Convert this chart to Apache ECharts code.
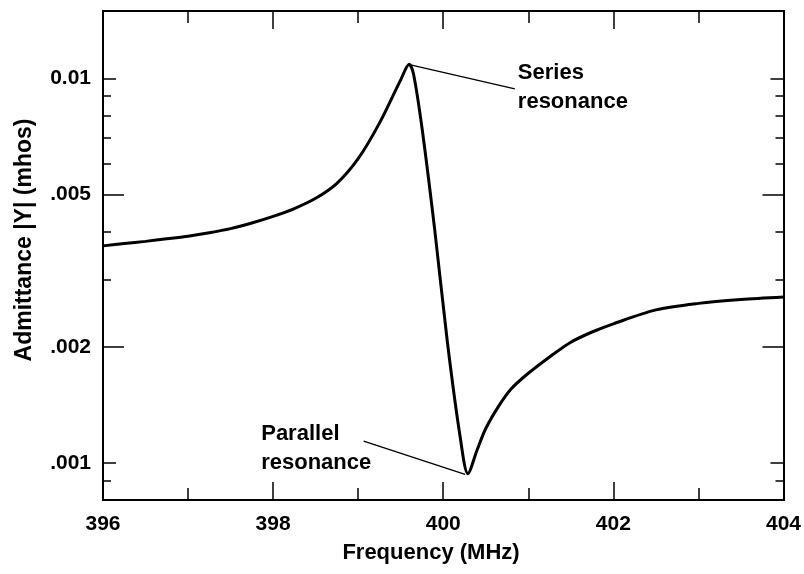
<!DOCTYPE html>
<html>
<head>
<meta charset="utf-8">
<script src="https://cdn.jsdelivr.net/npm/echarts@6/dist/echarts.min.js"></script>
<style>
html,body{margin:0;padding:0;background:#fff;}
#chart{width:804px;height:574px;}
</style>
</head>
<body>
<div id="chart"></div>
<script>
// Frequency (MHz)
var freq = [396.0, 396.25, 396.5, 396.75, 397.0, 397.25, 397.5, 397.75, 398.0, 398.25, 398.5, 398.75, 399.0, 399.25, 399.5, 399.6,
            399.65, 399.75, 399.90, 400.05, 400.20, 400.29,
            400.4, 400.5, 400.65, 400.8, 401.0, 401.25, 401.5, 401.75, 402.0, 402.5, 403.0, 403.5, 404.0];
// Admittance |Y| (mhos)
var admittance = [0.00367, 0.00372, 0.00377, 0.00383, 0.00389, 0.00397, 0.00407, 0.00421, 0.00438, 0.00459, 0.00488, 0.00534, 0.00619, 0.00766, 0.00993, 0.0109,
                  0.0103, 0.00745, 0.00404, 0.00205, 0.001163, 0.000937,
                  0.001083, 0.001228, 0.001402, 0.001558, 0.00171, 0.001886, 0.00206, 0.00219, 0.00230, 0.00250, 0.00260, 0.00266, 0.00270];

var xTicks = [396, 398, 400, 402, 404];
var yLabelValues = [0.01, 0.005, 0.002, 0.001];
var yLabelTexts = ['0.01', '.005', '.002', '.001'];
var yMajorLong = [0.005, 0.002];
var yMajorShort = [0.01, 0.001];
var yMinor = [0.0009, 0.003, 0.004, 0.006, 0.007, 0.008, 0.009];

// annotations: leader start (on curve), leader end, text anchor
var annoTexts = ['Series\nresonance', 'Parallel\nresonance'];
var annoLeaderFrom = [[399.59, 0.01089], [400.257, 0.000933]];
var annoLeaderTo = [[400.842, 0.0094], [399.064, 0.001139]];
var annoTextAt = [[400.877, 0.00946], [397.86, 0.001088]];

var FONT = '"Liberation Sans", Arial, Helvetica, sans-serif';
var YMIN = 0.0008, YMAX = 0.015;

function xAxisDef(pos, showLabel) {
  return {
    type: 'value', position: pos, min: 396, max: 404, interval: 2,
    axisLine: {show: true, onZero: false, lineStyle: {color: '#000', width: 2}},
    axisTick: {show: true, inside: true, length: 18, lineStyle: {color: '#000', width: 1.5}},
    minorTick: {show: true, splitNumber: 2, length: 12, lineStyle: {color: '#000', width: 1.5}},
    splitLine: {show: false}, minorSplitLine: {show: false},
    axisLabel: {show: showLabel, margin: 14, color: '#000', fontSize: 21, fontWeight: 'bold', fontFamily: FONT,
      customValues: xTicks,
      formatter: function (v) { return String(Math.round(v)); }}
  };
}
function yAxisDef(pos, ticks, len, showLabel) {
  return {
    type: 'log', logBase: 10, position: pos, min: YMIN, max: YMAX,
    axisLine: {show: true, onZero: false, lineStyle: {color: '#000', width: 2}},
    axisTick: {show: true, inside: true, length: len, customValues: ticks, lineStyle: {color: '#000', width: 1.5}},
    minorTick: {show: false},
    splitLine: {show: false}, minorSplitLine: {show: false},
    axisLabel: {show: showLabel, margin: 12, color: '#000', fontSize: 21, fontWeight: 'bold', fontFamily: FONT,
      customValues: yLabelValues,
      formatter: function (v) {
        for (var i = 0; i < yLabelValues.length; i++) {
          if (Math.abs(v - yLabelValues[i]) / yLabelValues[i] < 1e-6) return yLabelTexts[i];
        }
        return '';
      }}
  };
}

var chart = echarts.init(document.getElementById('chart'));
var option = {
  animation: false,
  backgroundColor: '#fff',
  grid: {left: 103, right: 16, top: 11, bottom: 74},
  xAxis: [xAxisDef('bottom', true), xAxisDef('top', false)],
  yAxis: [
    yAxisDef('left', yMajorLong, 21, true),
    yAxisDef('left', yMajorShort, 13, false),
    yAxisDef('left', yMinor, 8, false),
    yAxisDef('right', yMajorLong, 21, false),
    yAxisDef('right', yMajorShort, 13, false),
    yAxisDef('right', yMinor, 8, false)
  ],
  graphic: [
    {type: 'text', x: 431, y: 553, style: {text: 'Frequency (MHz)', fill: '#000',
      font: 'bold 22px ' + FONT, textAlign: 'center', textVerticalAlign: 'middle'}},
    {type: 'text', x: 25, y: 240, rotation: Math.PI / 2, style: {text: 'Admittance |Y| (mhos)', fill: '#000',
      font: 'bold 23px ' + FONT, textAlign: 'center', textVerticalAlign: 'middle'}}
  ],
  series: [
    {
      name: 'Admittance', type: 'line', xAxisIndex: 0, yAxisIndex: 0,
      data: freq.map(function (f, i) { return [f, admittance[i]]; }),
      showSymbol: false, symbol: 'none', smooth: 0.3,
      lineStyle: {color: '#000', width: 3},
      markLine: {
        silent: true, symbol: ['none', 'none'], label: {show: false},
        lineStyle: {color: '#000', width: 1.3, type: 'solid'},
        data: annoLeaderFrom.map(function (p, i) {
          return [{coord: p}, {coord: annoLeaderTo[i]}];
        })
      }
    },
    {
      name: 'Annotations', type: 'scatter', xAxisIndex: 0, yAxisIndex: 0,
      symbolSize: 0, silent: true, itemStyle: {opacity: 1, color: '#000'},
      data: annoTextAt.map(function (p, i) { return [p[0], p[1], annoTexts[i]]; }),
      label: {show: true, position: 'right', distance: 0, color: '#000', opacity: 1, fontSize: 22, fontWeight: 'bold',
        fontFamily: FONT, lineHeight: 29, align: 'left',
        formatter: function (p) { return p.data[2]; }}
    }
  ]
};
chart.setOption(option);
</script>
</body>
</html>
